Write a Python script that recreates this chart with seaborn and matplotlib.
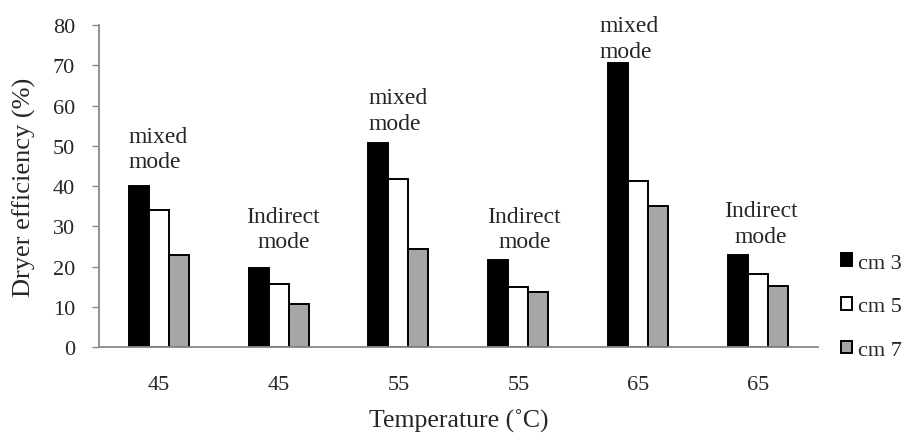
import pandas as pd
import seaborn as sns
import matplotlib.pyplot as plt

# --- datos ---
temperaturas = ["45", "45", "55", "55", "65", "65"]
modos = ["mixed\nmode", "Indirect\nmode", "mixed\nmode", "Indirect\nmode", "mixed\nmode", "Indirect\nmode"]
espesores = ["cm 3", "cm 5", "cm 7"]
cm3 = [40.1, 19.7, 50.8, 21.6, 70.6, 22.9]
cm5 = [34.0, 15.7, 41.7, 15.0, 41.2, 18.1]
cm7 = [22.9, 10.7, 24.3, 13.7, 35.1, 15.1]

# altura (en %) de la base de cada etiqueta de modo
altura_modo = [43.4, 23.5, 52.9, 23.5, 70.8, 24.8]
desplaz_modo = [-0.25, 0.04, -0.25, 0.05, -0.32, 0.02]

filas = []
for i in range(len(temperaturas)):
    for esp, vals in zip(espesores, [cm3, cm5, cm7]):
        filas.append({"grupo": i, "espesor": esp, "eficiencia": vals[i]})
df = pd.DataFrame(filas)

sns.set_style("white")
plt.rcParams["font.family"] = ["Liberation Serif", "DejaVu Serif"]

fig = plt.figure(figsize=(9.07, 4.35), dpi=100)
ax = fig.add_axes([0.1088, 0.2, 0.7932, 0.74])

sns.barplot(data=df, x="grupo", y="eficiencia", hue="espesor",
            palette=["black", "white", "#a6a6a6"], width=0.5,
            edgecolor="black", linewidth=1.4, ax=ax)

# etiquetas de modo sobre cada grupo
for i, modo in enumerate(modos):
    if "mixed" in modo:
        ax.text(i + desplaz_modo[i], altura_modo[i], modo, ha="left", va="bottom",
                fontsize=17, linespacing=1.3, clip_on=False)
    else:
        ax.text(i + desplaz_modo[i], altura_modo[i], modo, ha="center", va="bottom",
                fontsize=17, linespacing=1.3, multialignment="center")

ax.set_ylim(0, 80)
ax.set_xlim(-0.5, 5.5)
ax.set_yticks(range(0, 81, 10))
ax.set_xticks(range(6))
ax.set_xticklabels(temperaturas)
ax.tick_params(axis="x", length=0, pad=20, labelsize=16)
ax.tick_params(axis="y", length=5, width=1, color="#888888", labelsize=16, left=True, pad=12)
ax.set_xlabel("Temperature (˚C)", fontsize=18.5, labelpad=11)
ax.set_ylabel("Dryer efficiency (%)", fontsize=19, labelpad=12)

for lado in ["top", "right"]:
    ax.spines[lado].set_visible(False)
for lado in ["left", "bottom"]:
    ax.spines[lado].set_color("#888888")
    ax.spines[lado].set_linewidth(1.3)

handles, labels = ax.get_legend_handles_labels()
ax.legend(handles, labels, loc="center left", bbox_to_anchor=(1.01, 0.125),
          frameon=False, fontsize=16, handlelength=0.5, handleheight=0.5,
          handletextpad=0.25, labelspacing=1.1, borderaxespad=0.3)

fig.savefig("out.png", dpi=100)
